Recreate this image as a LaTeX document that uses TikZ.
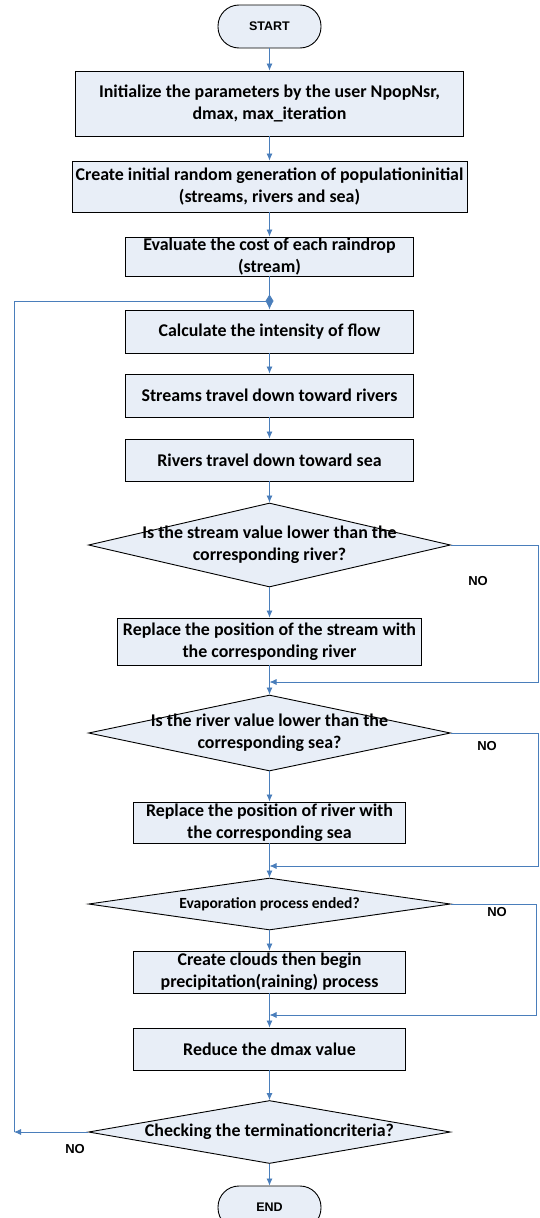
\documentclass[tikz,border=0pt]{standalone}
\usepackage{fontspec}
\setmainfont{Carlito}
\newfontfamily\labelfont{Liberation Sans}
\usepackage{tikz}
\usetikzlibrary{shapes, arrows.meta, positioning}
\definecolor{flowblue}{RGB}{74,126,187}
\definecolor{boxfill}{RGB}{232,238,247}

\begin{document}
\begin{tikzpicture}[x=1pt, y=-1pt, >={Latex[length=7pt,width=6pt]},
        every node/.style={font=\bfseries\fontsize{17.9}{21.6}\selectfont},
        procbox/.style={draw, fill=boxfill, line width=0.9pt, align=center, inner sep=0pt},
        termbox/.style={draw, fill=boxfill, line width=0.9pt, rounded corners=21pt, minimum width=103pt,
                minimum height=43pt, font=\labelfont\bfseries\fontsize{12.5}{14}\selectfont},
        decbox/.style={draw, fill=boxfill, diamond, line width=0.9pt, minimum width=362pt, inner sep=0pt},
        flow/.style={draw=flowblue, line width=0.8pt, ->},
        nolabel/.style={font=\labelfont\bfseries\fontsize{13}{15}\selectfont}]
    \useasboundingbox (0,0) rectangle (539,1218);

    \node[termbox] (start) at (269.5,26.5) {START};
    \node[procbox, minimum width=388pt, minimum height=65pt] (init) at (269.5,103.5)
        {Initialize the parameters by the user NpopNsr,\\dmax, max\_iteration};
    \node[procbox, minimum width=395pt, minimum height=51pt] (create) at (269.5,186.5)
        {Create initial random generation of populationinitial\\(streams, rivers and sea)};
    \node[procbox, minimum width=288pt, minimum height=39pt] (eval) at (269.5,256.5)
        {Evaluate the cost of each raindrop\\(stream)};
    \node[procbox, minimum width=288pt, minimum height=43pt] (calc) at (269.5,331.5)
        {Calculate the intensity of flow};
    \node[procbox, minimum width=288pt, minimum height=43pt] (streams) at (269.5,395.5)
        {Streams travel down toward rivers};
    \node[procbox, minimum width=288pt, minimum height=42pt] (rivers) at (269.5,460)
        {Rivers travel down toward sea};
    \node[decbox, minimum height=84pt, label={[align=center]center:Is the stream value lower than the\\corresponding river?}]
        (d1) at (269.5,545) {};
    \node[procbox, minimum width=304pt, minimum height=47pt] (rep1) at (269.5,641.5)
        {Replace the position of the stream with\\the corresponding river};
    \node[decbox, minimum height=76pt, label={[align=center]center:Is the river value lower than the\\corresponding sea?}]
        (d2) at (269.5,733) {};
    \node[procbox, minimum width=272pt, minimum height=41pt] (rep2) at (269.5,822.5)
        {Replace the position of river with\\the corresponding sea};
    \node[decbox, minimum height=52pt, label={[font=\bfseries\fontsize{15.5}{18}\selectfont]center:Evaporation process ended?}]
        (d3) at (269.5,904) {};
    \node[procbox, minimum width=272pt, minimum height=42pt] (clouds) at (269.5,972)
        {Create clouds then begin\\precipitation(raining) process};
    \node[procbox, minimum width=272pt, minimum height=42pt] (reduce) at (269.5,1049)
        {Reduce the dmax value};
    \node[decbox, minimum height=63pt, label={center:Checking the terminationcriteria?}]
        (chk) at (269.5,1132) {};
    \node[termbox] (end) at (269.5,1207.5) {END};

    % junctions and corners of the loops
    \coordinate (j1) at (269.5,682);
    \coordinate (j2) at (269.5,866);
    \coordinate (j3) at (269.5,1015);
    \coordinate (r1) at (538,545);
    \coordinate (r2) at (538,733);
    \coordinate (r3) at (536,904);
    \coordinate (lft) at (14,1132);
    \coordinate (jtop) at (273.5,301);

    \foreach \a/\b in {start/init, init/create, create/eval, eval/calc, calc/streams, streams/rivers,
            rivers/d1, d1/rep1, rep1/d2, d2/rep2, rep2/d3, d3/clouds, clouds/reduce, reduce/chk, chk/end}
        \draw[flow] (\a) -- (\b);

    \draw[flow] (d1.east) -- (r1) |- (j1);
    \draw[flow] (d2.east) -- (r2) |- (j2);
    \draw[flow] (d3.east) -- (r3) |- (j3);
    \draw[flow] (chk.west) -- (lft);
    \draw[draw=flowblue, line width=0.8pt, -{Diamond[length=8pt,width=13pt]}] (lft) |- (jtop);

    \node[nolabel] (no1) at (478,581) {NO};
    \node[nolabel] (no2) at (487,746) {NO};
    \node[nolabel] (no3) at (497,912) {NO};
    \node[nolabel] (no4) at (75,1149) {NO};
\end{tikzpicture}
\end{document}
